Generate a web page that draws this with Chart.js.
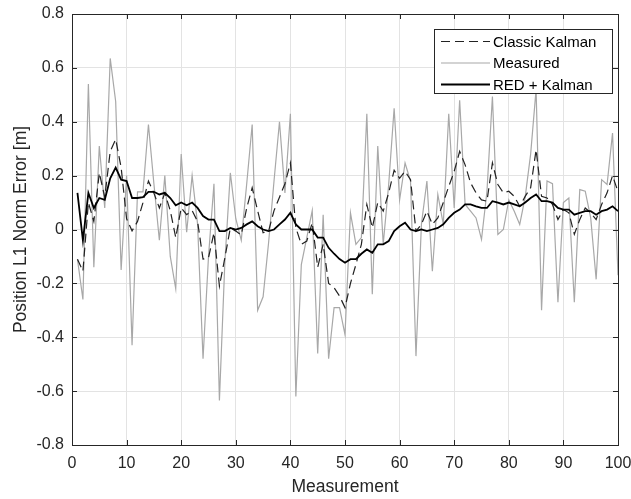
<!DOCTYPE html>
<html>
<head>
<meta charset="utf-8">
<script src="https://cdn.jsdelivr.net/npm/chart.js@4.4.1/dist/chart.umd.min.js"></script>
<style>
  html, body { margin: 0; padding: 0; background: #fff; }
  #wrap { width: 631px; height: 499px; }
</style>
</head>
<body>
<div id="wrap"><canvas id="chart" width="631" height="499"></canvas></div>
<script>
const measurements = Array.from({ length: 100 }, (_, i) => i + 1);

const classicKalman = [
  -0.11, -0.155, 0.10, 0.03, 0.21, 0.12, 0.29, 0.335, 0.23, 0.04,
  -0.005, 0.03, 0.10, 0.18, 0.135, 0.08, 0.135, 0.07, -0.03, 0.08,
  0.055, 0.07, 0.03, -0.11, -0.105, -0.012, -0.21, -0.105, 0.006, -0.006,
  -0.02, 0.08, 0.155, 0.07, -0.012, -0.006, 0.07, 0.12, 0.17, 0.247,
  0.006, -0.055, -0.043, 0.025, -0.14, -0.055, -0.20, -0.216, -0.247, -0.29,
  -0.20, -0.13, -0.055, 0.093, 0.006, 0.10, 0.068, 0.136, 0.22, 0.19,
  0.216, 0.185, -0.006, 0.019, 0.068, 0.019, 0.043, 0.10, 0.16, 0.216,
  0.29, 0.24, 0.173, 0.136, 0.11, 0.105, 0.247, 0.167, 0.136, 0.142,
  0.123, 0.086, 0.123, 0.155, 0.296, 0.123, 0.117, 0.093, 0.037, 0.074,
  0.062, -0.018, 0.037, 0.08, 0.062, 0.037, 0.093, 0.136, 0.20, 0.14
];

const measured = [
  -0.11, -0.26, 0.54, -0.14, 0.31, 0.08, 0.635, 0.475, -0.15, 0.20,
  -0.43, 0.14, 0.14, 0.39, 0.17, -0.04, 0.20, -0.10, -0.22, 0.28,
  -0.01, 0.20, 0.02, -0.48, -0.10, 0.17, -0.635, -0.12, 0.21, 0.04,
  -0.04, 0.17, 0.39, -0.30, -0.25, -0.05, 0.18, 0.40, 0.136, 0.43,
  -0.62, -0.13, -0.03, 0.07, -0.46, 0.055, -0.48, -0.29, -0.29, -0.39,
  0.062, -0.055, -0.03, 0.43, -0.24, 0.31, -0.055, 0.167, 0.45, 0.11,
  0.247, 0.18, -0.47, 0.02, 0.18, -0.155, 0.13, 0.019, 0.43, 0.08,
  0.48, 0.093, 0.068, 0.043, -0.037, 0.142, 0.494, -0.018, 0.0, 0.11,
  0.068, 0.019, 0.12, 0.28, 0.52, -0.30, 0.18, 0.17, -0.27, 0.10,
  0.117, -0.27, 0.148, 0.142, 0.043, -0.185, 0.185, 0.167, 0.358, -0.17
];

const redKalman = [
  0.136, -0.04, 0.136, 0.08, 0.117, 0.11, 0.19, 0.23, 0.185, 0.18,
  0.117, 0.117, 0.12, 0.14, 0.14, 0.13, 0.136, 0.117, 0.09, 0.10,
  0.09, 0.10, 0.08, 0.05, 0.037, 0.037, -0.006, -0.006, 0.006, 0.0,
  0.006, 0.019, 0.03, 0.012, 0.0, -0.006, 0.0, 0.019, 0.037, 0.062,
  0.019, 0.0, 0.0, 0.0, -0.03, -0.03, -0.068, -0.09, -0.11, -0.123,
  -0.11, -0.11, -0.09, -0.074, -0.086, -0.055, -0.055, -0.043, -0.006, 0.012,
  0.025, 0.0, -0.006, 0.0, -0.006, 0.0, 0.006, 0.019, 0.043, 0.062,
  0.074, 0.093, 0.093, 0.086, 0.08, 0.08, 0.105, 0.10, 0.093, 0.10,
  0.093, 0.086, 0.10, 0.117, 0.13, 0.105, 0.105, 0.10, 0.08, 0.074,
  0.074, 0.055, 0.062, 0.068, 0.068, 0.055, 0.068, 0.074, 0.086, 0.068
];

const xTicks = [0, 10, 20, 30, 40, 50, 60, 70, 80, 90, 100];
const yTicks = [-0.8, -0.6, -0.4, -0.2, 0, 0.2, 0.4, 0.6, 0.8];

const axisColor = '#262626';
const font = 'Liberation Sans, Arial, sans-serif';

function toPoints(values) {
  return values.map((v, i) => ({ x: measurements[i], y: v }));
}

// MATLAB style box with inward ticks
const boxPlugin = {
  id: 'box',
  afterDatasetsDraw(chart) {
    const { ctx, chartArea: a, scales } = chart;
    ctx.save();
    ctx.strokeStyle = axisColor;
    ctx.lineWidth = 1;
    ctx.beginPath();
    xTicks.forEach(t => {
      const px = Math.round(scales.x.getPixelForValue(t)) + 0.5;
      ctx.moveTo(px, a.bottom); ctx.lineTo(px, a.bottom - 5);
      ctx.moveTo(px, a.top); ctx.lineTo(px, a.top + 5);
    });
    yTicks.forEach(t => {
      const py = Math.round(scales.y.getPixelForValue(t)) + 0.5;
      ctx.moveTo(a.left, py); ctx.lineTo(a.left + 5, py);
      ctx.moveTo(a.right, py); ctx.lineTo(a.right - 5, py);
    });
    ctx.stroke();
    ctx.strokeRect(Math.round(a.left) + 0.5, Math.round(a.top) + 0.5,
      Math.round(a.right - a.left), Math.round(a.bottom - a.top));
    ctx.restore();
  }
};

// legend box in the upper right corner
const legendPlugin = {
  id: 'boxLegend',
  afterDatasetsDraw(chart) {
    const { ctx } = chart;
    const x = 434.5, y = 29.5, w = 178, h = 64;
    ctx.save();
    ctx.fillStyle = '#fff';
    ctx.fillRect(x, y, w, h);
    ctx.strokeStyle = axisColor;
    ctx.lineWidth = 1;
    ctx.strokeRect(x, y, w, h);
    ctx.font = '15px ' + font;
    ctx.textBaseline = 'middle';
    chart.data.datasets.forEach((ds, i) => {
      const ly = 41.5 + i * 21.5;
      ctx.beginPath();
      ctx.strokeStyle = ds.borderColor;
      ctx.lineWidth = ds.borderWidth;
      ctx.setLineDash(ds.borderDash || []);
      ctx.moveTo(441, ly);
      ctx.lineTo(490, ly);
      ctx.stroke();
      ctx.setLineDash([]);
      ctx.fillStyle = '#000';
      ctx.fillText(ds.label, 493, ly + 1);
    });
    ctx.restore();
  }
};

new Chart(document.getElementById('chart'), {
  type: 'line',
  data: {
    datasets: [
      {
        label: 'Classic Kalman',
        data: toPoints(classicKalman),
        borderColor: '#222222',
        borderWidth: 1.2,
        borderDash: [9, 5],
        pointRadius: 0,
        tension: 0,
        order: 1
      },
      {
        label: 'Measured',
        data: toPoints(measured),
        borderColor: '#a8a8a8',
        borderWidth: 1.2,
        pointRadius: 0,
        tension: 0,
        order: 2
      },
      {
        label: 'RED + Kalman',
        data: toPoints(redKalman),
        borderColor: '#000000',
        borderWidth: 1.8,
        pointRadius: 0,
        tension: 0,
        order: 0
      }
    ]
  },
  options: {
    responsive: false,
    animation: false,
    layout: { autoPadding: false, padding: { left: 0, right: 13, top: 14, bottom: 0 } },
    plugins: {
      legend: { display: false },
      tooltip: { enabled: false }
    },
    scales: {
      x: {
        type: 'linear',
        min: 0,
        max: 100,
        afterBuildTicks: s => { s.ticks = xTicks.map(v => ({ value: v })); },
        afterFit: s => { s.height = 54; s.paddingLeft = 0; s.paddingRight = 0; },
        grid: { color: '#e3e3e3', drawTicks: false },
        border: { display: false },
        ticks: {
          padding: 9,
          color: axisColor,
          font: { family: font, size: 16 },
          maxRotation: 0
        },
        title: {
          display: true,
          text: 'Measurement',
          color: axisColor,
          font: { family: font, size: 17.5 },
          padding: { top: 0, bottom: 1.5 }
        }
      },
      y: {
        type: 'linear',
        min: -0.8,
        max: 0.8,
        afterBuildTicks: s => { s.ticks = yTicks.map(v => ({ value: v })); },
        afterFit: s => { s.width = 72; s.paddingTop = 0; s.paddingBottom = 0; },
        grid: { color: '#e3e3e3', drawTicks: false },
        border: { display: false },
        ticks: {
          padding: 8,
          color: axisColor,
          font: { family: font, size: 16 },
          callback: v => (Math.abs(v) < 1e-9 ? '0' : String(Math.round(v * 10) / 10))
        },
        title: {
          display: true,
          text: 'Position L1 Norm Error [m]',
          color: axisColor,
          font: { family: font, size: 17.5 },
          padding: { top: 10.5, bottom: 0 }
        }
      }
    }
  },
  plugins: [boxPlugin, legendPlugin]
});
</script>
</body>
</html>
